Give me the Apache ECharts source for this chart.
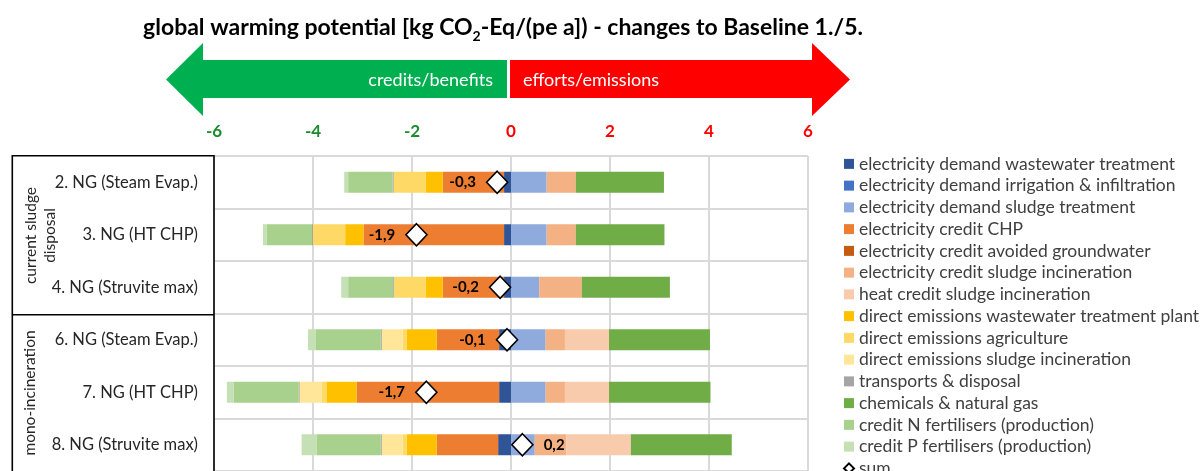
<!DOCTYPE html>
<html>
<head>
<meta charset="utf-8">
<script src="https://cdn.jsdelivr.net/npm/echarts@6/dist/echarts.min.js"></script>
<style>
  html, body { margin: 0; padding: 0; background: #fff; }
  #chart { width: 1202px; height: 471px; }
</style>
</head>
<body>
<div id="chart"></div>
<script>
const categories = ['2. NG (Steam Evap.)', '3. NG (HT CHP)', '4. NG (Struvite max)', '6. NG (Steam Evap.)', '7. NG (HT CHP)', '8. NG (Struvite max)']
const xTicks = [-6, -4, -2, 0, 2, 4, 6]

// values, kg CO2-Eq/(pe a)
const elecDemandWwtp = [-0.14, -0.14, -0.14, -0.24, -0.24, -0.26]
const elecDemandIrrigation = [0, 0, 0, 0, 0, 0]
const elecDemandSludge = [0.72, 0.72, 0.57, 0.70, 0.70, 0.48]
const elecCreditChp = [-1.24, -2.84, -1.24, -1.26, -2.88, -1.24]
const elecCreditGroundwater = [0, 0, 0, 0, 0, 0]
const elecCreditSludgeInc = [0.59, 0.59, 0.86, 0.39, 0.39, 0.64]
const heatCreditSludgeInc = [0, 0, 0, 0.89, 0.89, 1.30]
const directWwtp = [-0.34, -0.37, -0.34, -0.61, -0.61, -0.61]
const directAgri = [-0.65, -0.65, -0.64, -0.08, -0.09, -0.08]
const directSludgeInc = [0, 0, 0, -0.42, -0.45, -0.42]
const transports = [-0.02, -0.02, -0.02, -0.02, -0.02, -0.02]
const chemicals = [1.78, 1.79, 1.78, 2.04, 2.05, 2.04]
const creditN = [-0.90, -0.92, -0.91, -1.31, -1.31, -1.30]
const creditP = [-0.08, -0.07, -0.14, -0.16, -0.14, -0.30]

const parts = [
  { name: 'electricity demand wastewater treatment', color: '#2F5597', data: elecDemandWwtp },
  { name: 'electricity demand irrigation & infiltration', color: '#4472C4', data: elecDemandIrrigation },
  { name: 'electricity demand sludge treatment', color: '#8FAADC', data: elecDemandSludge },
  { name: 'electricity credit CHP', color: '#ED7D31', data: elecCreditChp },
  { name: 'electricity credit avoided groundwater', color: '#C55A11', data: elecCreditGroundwater },
  { name: 'electricity credit sludge incineration', color: '#F4B183', data: elecCreditSludgeInc },
  { name: 'heat credit sludge incineration', color: '#F8CBAD', data: heatCreditSludgeInc },
  { name: 'direct emissions wastewater treatment plant', color: '#FFC000', data: directWwtp },
  { name: 'direct emissions agriculture', color: '#FFD966', data: directAgri },
  { name: 'direct emissions sludge incineration', color: '#FFE699', data: directSludgeInc },
  { name: 'transports & disposal', color: '#A5A5A5', data: transports },
  { name: 'chemicals & natural gas', color: '#70AD47', data: chemicals },
  { name: 'credit N fertilisers (production)', color: '#A9D18E', data: creditN },
  { name: 'credit P fertilisers (production)', color: '#C5E0B4', data: creditP }
]

const sums = categories.map((c, i) => parts.reduce((s, p) => s + p.data[i], 0))

const FONT = 'Lato'
const chart = echarts.init(document.getElementById('chart'))

const barSeries = parts.map(p => ({
  name: p.name,
  type: 'bar',
  stack: 'total',
  barWidth: '40%',
  itemStyle: { color: p.color },
  emphasis: { disabled: true },
  data: p.data
}))

const sumSeries = {
  name: 'sum',
  type: 'scatter',
  symbol: 'diamond',
  symbolSize: [21, 22],
  z: 5,
  itemStyle: { color: '#fff', borderColor: '#000', borderWidth: 1.6, opacity: 1 },
  emphasis: { disabled: true },
  label: {
    show: true,
    position: 'left',
    distance: 10,
    fontFamily: FONT,
    fontWeight: 'bold',
    fontSize: 15,
    color: '#000',
    formatter: p => p.value[0].toFixed(1).replace('.', ',')
  },
  data: sums.map((v, i) => {
    const d = { value: [v, i] }
    if (v > 0) d.label = { position: 'right' }
    return d
  })
}

const option = {
  animation: false,
  textStyle: { fontFamily: FONT },
  title: {
    text: '{m|global warming potential [kg CO}{sub|2}{m|-Eq/(pe a]) - changes to Baseline 1./5.}',
    left: 498,
    top: 4,
    textAlign: 'center',
    textStyle: {
      rich: {
        m: { fontFamily: FONT, fontWeight: 'bold', fontSize: 23, color: '#000', lineHeight: 30, verticalAlign: 'bottom' },
        sub: { fontFamily: FONT, fontWeight: 'bold', fontSize: 14, color: '#000', lineHeight: 30, verticalAlign: 'bottom', padding: [0, 0, -4, 0] }
      }
    }
  },
  legend: {
    orient: 'vertical',
    left: 838,
    top: 148,
    height: 360,
    itemWidth: 10,
    itemHeight: 10,
    itemGap: 0,
    selectedMode: false,
    textStyle: { fontFamily: FONT, fontSize: 17.5, color: '#404040', lineHeight: 21.75 },
    data: parts.map(p => ({ name: p.name, icon: 'rect' })).concat([{ name: 'sum', icon: 'diamond' }])
  },
  grid: { left: 214, top: 156, width: 594, height: 320 },
  xAxis: {
    type: 'value',
    position: 'top',
    min: xTicks[0],
    max: xTicks[xTicks.length - 1],
    interval: 2,
    axisLine: { show: false },
    axisTick: { show: false },
    splitLine: { lineStyle: { color: '#d9d9d9', width: 2 } },
    axisLabel: {
      margin: 16,
      fontFamily: FONT,
      fontWeight: 'bold',
      fontSize: 17,
      color: v => (v < 0 ? '#1a8c2e' : '#ff0000')
    }
  },
  yAxis: {
    type: 'category',
    inverse: true,
    data: categories,
    axisLine: { show: false },
    axisTick: { show: false },
    splitLine: { show: true, lineStyle: { color: '#d9d9d9', width: 2 } },
    axisLabel: { margin: 16, fontFamily: FONT, fontSize: 16.5, color: '#262626' }
  },
  series: barSeries.concat([sumSeries]),
  graphic: [
    // direction arrow above the axis
    {
      type: 'polygon',
      shape: { points: [[166, 79.5], [203, 43], [203, 60], [507, 60], [507, 98], [203, 98], [203, 116]] },
      style: { fill: '#00B050' }
    },
    {
      type: 'polygon',
      shape: { points: [[510, 60], [812, 60], [812, 43], [850, 79.5], [812, 116], [812, 98], [510, 98]] },
      style: { fill: '#FF0000' }
    },
    {
      type: 'text', x: 493, y: 80,
      style: { text: 'credits/benefits', fill: '#fff', font: '18px Lato', textAlign: 'right', textVerticalAlign: 'middle' }
    },
    {
      type: 'text', x: 523, y: 80,
      style: { text: 'efforts/emissions', fill: '#fff', font: '18px Lato', textAlign: 'left', textVerticalAlign: 'middle' }
    },
    // group box on the left
    {
      type: 'polyline', z: 10,
      shape: { points: [[214, 480], [214, 155.7], [12.3, 155.7], [12.3, 480]] },
      style: { stroke: '#000', lineWidth: 1.6, fill: null }
    },
    {
      type: 'line', z: 10,
      shape: { x1: 12.3, y1: 314.7, x2: 214, y2: 314.7 },
      style: { stroke: '#000', lineWidth: 1.6 }
    },
    {
      type: 'text', x: 40, y: 235.5, rotation: Math.PI / 2,
      style: { text: 'current sludge\ndisposal', fill: '#262626', font: '15.5px Lato', textAlign: 'center', textVerticalAlign: 'middle', lineHeight: 19 }
    },
    {
      type: 'text', x: 30, y: 393, rotation: Math.PI / 2,
      style: { text: 'mono-incineration', fill: '#262626', font: '15.5px Lato', textAlign: 'center', textVerticalAlign: 'middle' }
    }
  ]
}

chart.setOption(option)
</script>
</body>
</html>
